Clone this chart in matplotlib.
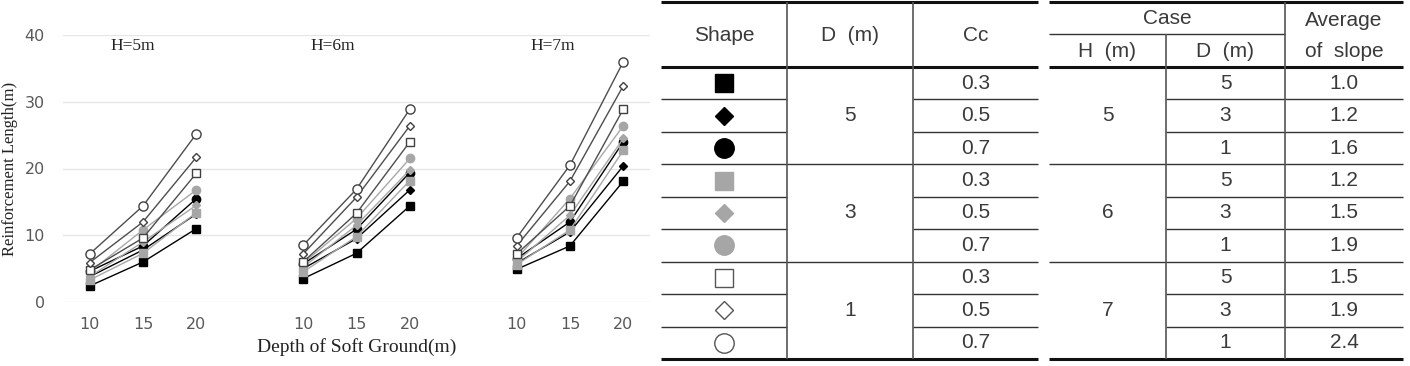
import numpy as np
import matplotlib
matplotlib.use("Agg")
import matplotlib.pyplot as plt

# ---- chart data ----
depth = [10, 15, 20]
group_titles = ["H=5m", "H=6m", "H=7m"]
# rows: D=5 (Cc .3/.5/.7), D=3 (...), D=1 (...); columns: depth 10, 15, 20
len_h5 = [[2.4, 6.0, 11.0], [3.8, 7.8, 13.2], [4.6, 8.4, 15.5],
          [3.3, 7.3, 13.4], [3.8, 9.0, 14.5], [4.5, 10.8, 16.8],
          [4.8, 9.6, 19.3], [5.9, 12.0, 21.7], [7.2, 14.4, 25.2]]
len_h6 = [[3.5, 7.3, 14.4], [5.0, 9.5, 16.8], [5.7, 10.9, 19.4],
          [4.5, 9.8, 18.2], [5.2, 11.5, 19.8], [5.8, 12.5, 21.5],
          [6.0, 13.3, 24.0], [7.2, 15.7, 26.4], [8.5, 16.9, 28.9]]
len_h7 = [[4.9, 8.4, 18.1], [5.8, 10.5, 20.4], [6.5, 12.0, 24.0],
          [5.6, 10.8, 22.7], [6.0, 13.0, 24.5], [6.5, 15.5, 26.4],
          [7.2, 14.4, 28.9], [8.4, 18.1, 32.4], [9.6, 20.5, 36.0]]

# ---- table data ----
t1_header = ["Shape", "D  (m)", "Cc"]
t1_d = ["5", "3", "1"]
t1_cc = ["0.3", "0.5", "0.7"] * 3
t2_h = ["5", "6", "7"]
t2_d = ["5", "3", "1"] * 3
t2_slope = ["1.0", "1.2", "1.6", "1.2", "1.5", "1.9", "1.5", "1.9", "2.4"]

# marker style per series (D group colour, Cc shape)
shapes = ["s", "D", "o"]
face_cols = ["#000000", "#a6a6a6", "#ffffff"]
edge_cols = ["#000000", "#a6a6a6", "#404040"]
line_cols = ["#000000", "#a8a8a8", "#4d4d4d"]
chart_ms = {"s": 6, "D": 4.2, "o": 6}

W, H = 1410, 366
fig = plt.figure(figsize=(W / 100, H / 100), dpi=100)

# ---- line chart ----
ax = fig.add_axes([63 / W, (H - 302) / H, 587 / W, 267 / H])
serif = "Liberation Serif"
for g, data in enumerate([len_h5, len_h6, len_h7]):
    xs = [g * 4 + i for i in range(len(depth))]
    for k, vals in enumerate(data):
        gi, si = k // 3, k % 3
        m = shapes[si]
        ax.plot(xs, vals, color=line_cols[gi], lw=1.0, marker=m,
                ms=chart_ms[m] + (0.6 if gi == 2 and m == "o" else 0),
                mfc=face_cols[gi], mec=edge_cols[gi], mew=1.0, zorder=3 + k)
    ax.text(g * 4 + [0.8, 0.56, 0.67][g], 38.4, group_titles[g], family=serif,
            fontsize=12.5, ha="center", va="center", color="#222222")

ax.set_xlim(-0.5, 10.5)
ax.set_ylim(0, 40)
ax.set_yticks([0, 10, 20, 30, 40])
ax.set_xticks([g * 4 + i for g in range(3) for i in range(3)])
ax.set_xticklabels([str(d) for _ in range(3) for d in depth])
ax.tick_params(length=0, labelsize=11.5, colors="#595959", pad=11)
ax.tick_params(axis="y", pad=13)
for s in ax.spines.values():
    s.set_visible(False)
ax.grid(axis="y", color="#e6e6e6", lw=1.0)
ax.set_axisbelow(True)
ax.set_xlabel("Depth of Soft Ground(m)", family=serif, fontsize=14,
              color="#222222")
ax.set_ylabel("Reinforcement Length(m)", family=serif, fontsize=12,
              color="#222222")
ax.xaxis.set_label_coords(0.5, -0.135)
ax.yaxis.set_label_coords(-0.077, 0.5)

# ---- tables drawn on a pixel overlay ----
tx = fig.add_axes([0, 0, 1, 1])
tx.set_xlim(0, W)
tx.set_ylim(H, 0)
tx.axis("off")

rows = [67 + 32.44 * k for k in range(10)]
top = 2
thick, thin = 2.2, 1.0
lc = "#333333"
tfont = dict(family="Liberation Sans", fontsize=15, color="#3a3a3a",
             ha="center", va="center")


def hline(x0, x1, y, lw):
    tx.plot([x0, x1], [y, y], color="#111111" if lw > 2 else lc, lw=lw,
            solid_capstyle="butt")


def vline(x, y0, y1):
    tx.plot([x, x], [y0, y1], color="#555555", lw=1.2, solid_capstyle="butt")


# table 1
c1 = [661, 787, 913, 1038]
hline(c1[0], c1[-1], top, thick)
hline(c1[0], c1[-1], rows[0], thick)
hline(c1[0], c1[-1], rows[-1], thick)
for k in range(1, 9):
    if k % 3 == 0:
        hline(c1[0], c1[-1], rows[k], thin)
    else:
        hline(c1[0], c1[1], rows[k], thin)
        hline(c1[2], c1[3], rows[k], thin)
for x in c1[1:3]:
    vline(x, top, rows[-1])
for j, t in enumerate(t1_header):
    tx.text((c1[j] + c1[j + 1]) / 2, (top + rows[0]) / 2 + 1, t, **tfont)
for k in range(9):
    yc = (rows[k] + rows[k + 1]) / 2
    gi, si = k // 3, k % 3
    m = shapes[si]
    ms = {"s": 13, "D": 9.5, "o": 14}[m]
    tx.plot([(c1[0] + c1[1]) / 2], [yc], marker=m, ms=ms, mfc=face_cols[gi],
            mec="#555555" if gi == 2 else face_cols[gi], mew=1.0)
    tx.text((c1[2] + c1[3]) / 2, yc, t1_cc[k], **tfont)
for g in range(3):
    tx.text((c1[1] + c1[2]) / 2, (rows[g * 3] + rows[g * 3 + 3]) / 2, t1_d[g], **tfont)

# table 2
c2 = [1049, 1166, 1285, 1403]
mid = 34
hline(c2[0], c2[-1], top, thick)
hline(c2[0], c2[-1], rows[0], thick)
hline(c2[0], c2[-1], rows[-1], thick)
hline(c2[0], c2[2], mid, thin)
for k in range(1, 9):
    if k % 3 == 0:
        hline(c2[0], c2[-1], rows[k], thin)
    else:
        hline(c2[1], c2[3], rows[k], thin)
vline(c2[1], mid, rows[-1])
vline(c2[2], top, rows[-1])
tx.text((c2[0] + c2[2]) / 2, (top + mid) / 2 + 1, "Case", **tfont)
tx.text((c2[0] + c2[1]) / 2, (mid + rows[0]) / 2 + 1, "H  (m)", **tfont)
tx.text((c2[1] + c2[2]) / 2, (mid + rows[0]) / 2 + 1, "D  (m)", **tfont)
tx.text((c2[2] + c2[3]) / 2, (top + mid) / 2 + 2, "Average", **tfont)
tx.text((c2[2] + c2[3]) / 2, (mid + rows[0]) / 2 + 1, "of  slope", **tfont)
for k in range(9):
    yc = (rows[k] + rows[k + 1]) / 2
    tx.text((c2[1] + c2[2]) / 2, yc, t2_d[k], **tfont)
    tx.text((c2[2] + c2[3]) / 2, yc, t2_slope[k], **tfont)
for g in range(3):
    tx.text((c2[0] + c2[1]) / 2, (rows[g * 3] + rows[g * 3 + 3]) / 2, t2_h[g], **tfont)

fig.savefig("out.png", dpi=100)
